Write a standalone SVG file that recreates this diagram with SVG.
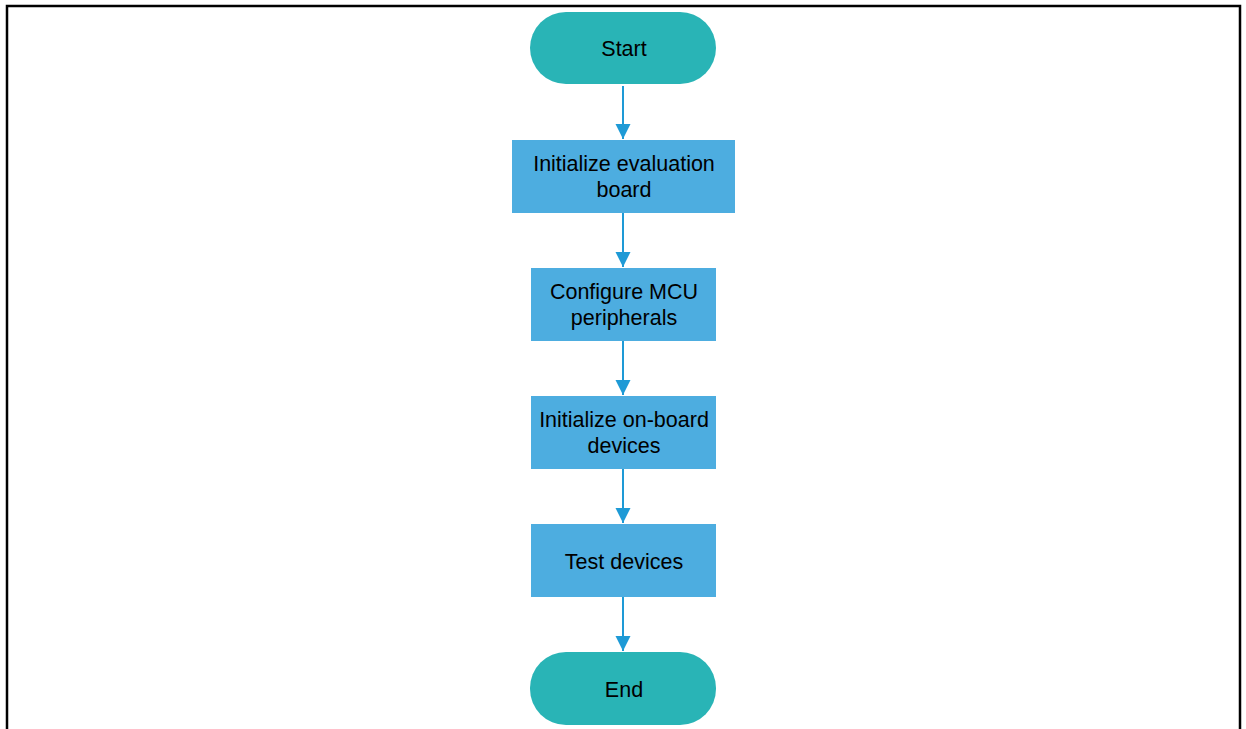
<svg xmlns="http://www.w3.org/2000/svg" width="1246" height="729" viewBox="0 0 1246 729">
<style>
.term{fill:#29b4b6}
.proc{fill:#4dade0}
.lbl{font-family:"Liberation Sans",Arial,sans-serif;font-size:21.5px;fill:#000;text-anchor:middle}
.conn{stroke:#1e9ad6;stroke-width:2;fill:none}
</style>
<defs>
<marker id="ah" markerUnits="userSpaceOnUse" markerWidth="16" markerHeight="16" refX="15" refY="7.5" orient="auto">
<path d="M0,0 L15,7.5 L0,15 Z" fill="#1e9ad6"/>
</marker>
</defs>
<rect x="0" y="0" width="1246" height="729" fill="#fff"/>
<path d="M7,729 V6 H1240 V729" fill="none" stroke="#000" stroke-width="2.5"/>
<g id="connectors">
<line class="conn" x1="623" y1="86" x2="623" y2="139" marker-end="url(#ah)"/>
<line class="conn" x1="623" y1="213" x2="623" y2="267" marker-end="url(#ah)"/>
<line class="conn" x1="623" y1="341" x2="623" y2="395" marker-end="url(#ah)"/>
<line class="conn" x1="623" y1="469" x2="623" y2="523" marker-end="url(#ah)"/>
<line class="conn" x1="623" y1="597" x2="623" y2="651" marker-end="url(#ah)"/>
</g>
<g id="start">
<rect class="term" x="530" y="12" width="186" height="72" rx="36"/>
<text class="lbl" x="624" y="55.5">Start</text>
</g>
<g id="init-board">
<rect class="proc" x="512" y="140" width="223" height="73"/>
<text class="lbl" x="624" y="170.5">Initialize evaluation</text>
<text class="lbl" x="624" y="196.5">board</text>
</g>
<g id="config-mcu">
<rect class="proc" x="531" y="268" width="185" height="73"/>
<text class="lbl" x="624" y="298.5">Configure MCU</text>
<text class="lbl" x="624" y="324.5">peripherals</text>
</g>
<g id="init-devices">
<rect class="proc" x="531" y="396" width="185" height="73"/>
<text class="lbl" x="624" y="426.5">Initialize on-board</text>
<text class="lbl" x="624" y="452.5">devices</text>
</g>
<g id="test-devices">
<rect class="proc" x="531" y="524" width="185" height="73"/>
<text class="lbl" x="624" y="568.5">Test devices</text>
</g>
<g id="end">
<rect class="term" x="530" y="652" width="186" height="73" rx="36"/>
<text class="lbl" x="624" y="696.5">End</text>
</g>
</svg>
